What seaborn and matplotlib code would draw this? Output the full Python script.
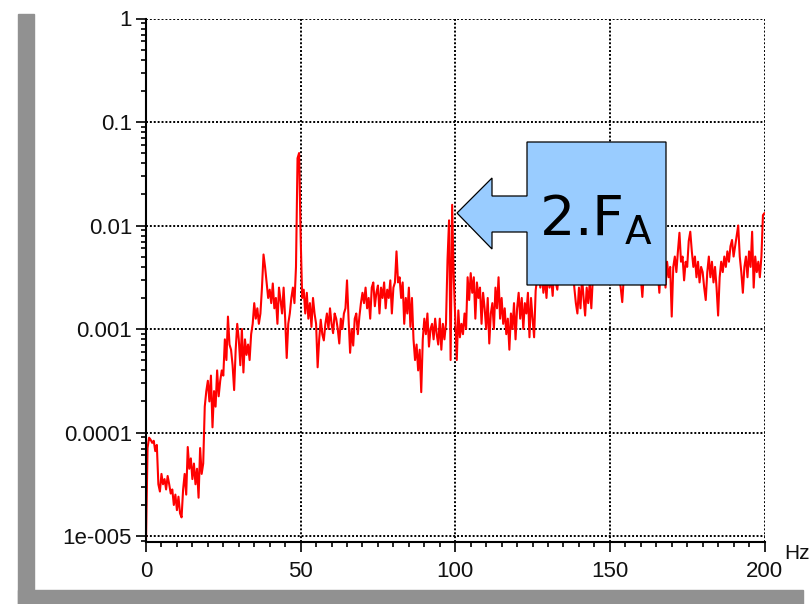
import numpy as np
import seaborn as sns
import matplotlib
matplotlib.use("Agg")
from matplotlib import pyplot as plt
from matplotlib.patches import Rectangle, Polygon
from matplotlib.ticker import LogLocator, NullFormatter, MultipleLocator

# log10 of the spectrum amplitude, 0.5 Hz steps
log_amp_0_50 = [
    -5.05, -4.15, -4.05, -4.07, -4.10, -4.08, -4.18, -4.12, -4.50, -4.57,
    -4.40, -4.50, -4.45, -4.55, -4.42, -4.50, -4.59, -4.55, -4.70, -4.60,
    -4.75, -4.62, -4.78, -4.82, -4.55, -4.40, -4.60, -4.14, -4.35, -4.25,
    -4.45, -4.30, -4.50, -4.35, -4.63, -4.15, -4.40, -4.30, -3.75, -3.60,
    -3.50, -3.70, -3.45, -3.95, -3.60, -3.75, -3.40, -3.65, -3.50, -3.40,
    -3.45, -3.10, -3.30, -2.88, -3.15, -3.20, -3.35, -3.59, -3.20, -2.95,
    -3.10, -3.35, -3.00, -3.42, -3.10, -3.25, -3.15, -3.30, -3.05, -2.95,
    -2.75, -2.90, -2.80, -2.95, -2.85, -2.60, -2.28, -2.40, -2.55, -2.70,
    -2.62, -2.75, -2.56, -2.80, -2.70, -2.95, -2.60, -2.72, -2.85, -2.60,
    -2.90, -3.28, -2.95, -2.85, -2.70, -2.60, -2.75, -2.40, -1.35, -1.30,
]
log_amp_50_100 = [
    -2.10, -2.70, -2.62, -2.85, -2.65, -2.90, -2.75, -2.98, -2.70, -2.85,
    -2.95, -3.37, -3.10, -2.91, -3.05, -3.11, -2.95, -2.85, -3.00, -2.80,
    -2.95, -3.04, -2.85, -2.90, -3.00, -3.14, -2.90, -3.00, -2.85, -2.80,
    -2.53, -2.90, -3.23, -3.00, -3.16, -2.90, -2.85, -3.05, -2.88, -2.75,
    -2.65, -2.75, -2.60, -2.80, -2.70, -2.90, -2.60, -2.55, -2.78, -2.65,
    -2.58, -2.85, -2.60, -2.70, -2.55, -2.80, -2.62, -2.70, -2.53, -2.85,
    -2.60, -2.55, -2.25, -2.55, -2.50, -2.70, -2.55, -2.95, -2.70, -2.85,
    -2.60, -2.98, -2.70, -3.10, -3.30, -3.15, -3.40, -3.20, -3.61, -3.10,
    -2.90, -3.05, -2.85, -3.17, -3.00, -2.95, -3.10, -2.90, -3.05, -3.15,
    -2.90, -3.20, -2.95, -3.10, -2.95, -2.33, -1.95, -3.30, -1.80, -2.50,
]
log_amp_100_150 = [
    -2.90, -3.30, -2.82, -3.08, -2.95, -3.05, -2.85, -3.00, -2.50, -2.72,
    -2.46, -2.65, -2.50, -2.90, -2.55, -2.70, -2.60, -2.95, -2.65, -2.80,
    -3.00, -2.70, -3.14, -2.85, -2.75, -3.00, -2.60, -2.80, -2.50, -2.90,
    -2.70, -2.95, -2.80, -3.05, -2.90, -3.20, -2.85, -3.00, -2.75, -3.10,
    -2.80, -2.65, -2.90, -2.70, -3.00, -2.75, -2.85, -2.65, -3.08, -2.70,
    -2.90, -3.08, -2.63, -2.50, -2.40, -2.60, -2.45, -2.65, -2.50, -2.70,
    -2.45, -2.60, -2.50, -2.68, -2.40, -2.55, -2.62, -2.45, -2.50, -2.35,
    -2.55, -2.40, -2.50, -2.30, -2.45, -2.55, -2.40, -2.60, -2.75, -2.85,
    -2.60, -2.80, -2.50, -2.70, -2.87, -2.60, -2.75, -2.55, -2.80, -2.50,
    -2.40, -2.55, -2.35, -2.50, -2.45, -2.30, -2.50, -2.40, -2.55, -2.35,
]
log_amp_150_200 = [
    -2.45, -2.30, -2.50, -2.40, -2.55, -2.35, -2.50, -2.60, -2.74, -2.50,
    -2.40, -2.55, -2.35, -2.45, -2.50, -2.30, -2.45, -2.40, -2.55, -2.45,
    -2.50, -2.69, -2.45, -2.55, -2.40, -2.50, -2.35, -2.45, -2.55, -2.40,
    -2.50, -2.45, -2.65, -2.35, -2.50, -2.40, -2.60, -2.35, -2.50, -2.40,
    -2.88, -2.40, -2.30, -2.45, -2.25, -2.07, -2.35, -2.30, -2.53, -2.35,
    -2.40, -2.15, -2.06, -2.25, -2.40, -2.30, -2.50, -2.35, -2.55, -2.40,
    -2.45, -2.60, -2.72, -2.45, -2.30, -2.50, -2.35, -2.55, -2.40, -2.60,
    -2.87, -2.50, -2.35, -2.45, -2.30, -2.40, -2.25, -2.35, -2.20, -2.14,
    -2.30, -2.20, -2.10, -2.00, -2.30, -2.45, -2.65, -2.40, -2.30, -2.50,
    -2.25, -2.40, -2.06, -2.60, -2.30, -2.45, -2.35, -2.50, -2.30, -1.90,
]
log_amp_end = [-1.88]

x_ticks = [0, 50, 100, 150, 200]
y_ticks = [1e-5, 1e-4, 1e-3, 1e-2, 1e-1, 1]
y_tick_labels = ["1e-005", "0.0001", "0.001", "0.01", "0.1", "1"]

log_amp = np.array(log_amp_0_50 + log_amp_50_100 + log_amp_100_150
                   + log_amp_150_200 + log_amp_end)
freq = np.arange(len(log_amp)) * 0.5
amp = 10.0 ** log_amp

sns.set_style("white")
plt.rcParams["font.family"] = ["Liberation Sans", "DejaVu Sans"]
plt.rcParams["mathtext.fontset"] = "dejavusans"

W, H = 811, 604
fig = plt.figure(figsize=(W / 100, H / 100), dpi=100)
fig.patch.set_facecolor("white")

# grauer Rahmen links und unten
fig.patches.append(Rectangle((18 / W, 0), 16 / W, 590 / H,
                             transform=fig.transFigure, color="#919191"))
fig.patches.append(Rectangle((18 / W, 0), (803 - 18) / W, 14 / H,
                             transform=fig.transFigure, color="#919191"))

ax = fig.add_axes([146 / W, 1 - 541.5 / H, (764.5 - 146) / W, (541.5 - 18.5) / H])
ax.set_facecolor("white")

sns.lineplot(x=freq, y=amp, ax=ax, color="#ff0000", linewidth=1.5,
             estimator=None, sort=False)

ax.set_yscale("log")
ax.set_xlim(0, 200)
ax.set_ylim(10 ** -5.053, 1)

ax.set_xticks(x_ticks)
ax.set_xticklabels([str(t) for t in x_ticks])
ax.xaxis.set_minor_locator(MultipleLocator(5))
ax.set_yticks(y_ticks)
ax.set_yticklabels(y_tick_labels)
ax.yaxis.set_minor_locator(LogLocator(base=10, subs=np.arange(2, 10)))
ax.yaxis.set_minor_formatter(NullFormatter())

ax.tick_params(which="both", bottom=True, left=True, top=False, right=False)
ax.tick_params(which="major", direction="out", length=7.5, width=1.2,
               color="black", labelsize=16, labelcolor="#111111")
ax.tick_params(which="minor", direction="out", length=3.5, width=1.2,
               color="black")
ax.tick_params(axis="x", which="major", pad=6.5)
ax.tick_params(axis="y", which="major", pad=2.5)
ax.set_xlabel("")
ax.set_ylabel("")

ax.grid(True, which="major", color="black", linestyle=(0, (1, 1)),
        linewidth=1.4)
ax.grid(False, which="minor")

for side in ["top", "right"]:
    ax.spines[side].set_visible(False)
for side in ["left", "bottom"]:
    ax.spines[side].set_color("black")
    ax.spines[side].set_linewidth(1.5)

fig.text(784 / W, 1 - 559 / H, "Hz", fontsize=15, color="#111111",
         ha="left", va="baseline")

# Pfeil-Legende "2.F_A"
callout_px = [(527, 142), (666, 142), (666, 285), (527, 285), (527, 232),
              (492, 232), (492, 249), (457, 213), (492, 178), (492, 196),
              (527, 196)]
callout = Polygon([(x / W, 1 - y / H) for x, y in callout_px], closed=True,
                  transform=fig.transFigure, facecolor="#99ccff",
                  edgecolor="black", linewidth=0.9, zorder=5)
fig.patches.append(callout)
fig.text(539 / W, 1 - 235 / H, r"2.F$_{\mathrm{A}}$", fontsize=40,
         family="DejaVu Sans", color="black", ha="left", va="baseline",
         zorder=6)

fig.savefig("out.png", dpi=100)
